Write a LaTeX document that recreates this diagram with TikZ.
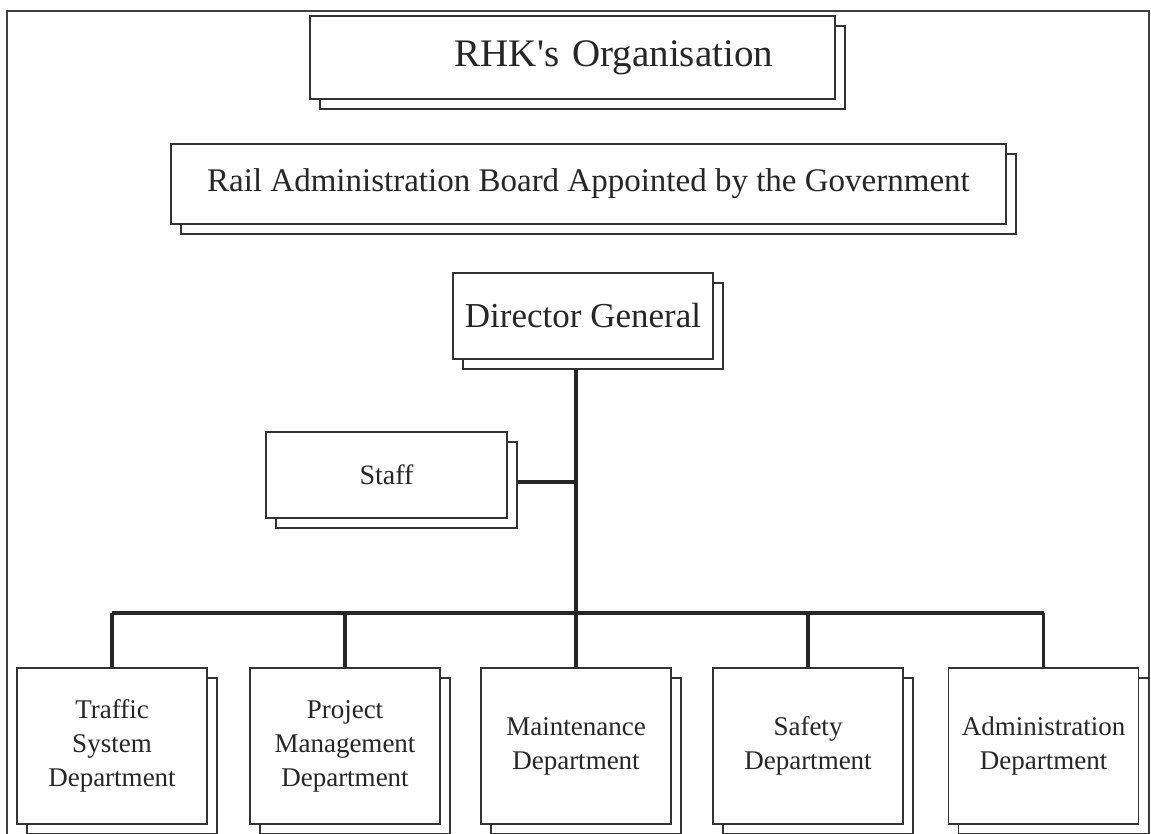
\documentclass[tikz,border=0pt]{standalone}
\usepackage{fontspec}
\setmainfont{Liberation Serif}
\usetikzlibrary{shadows, backgrounds}

\begin{document}
\begin{tikzpicture}[x=1pt, y=-1pt,
    box/.style={draw=black!80, line width=1.3pt, fill=white, text=black!85,
      copy shadow={shadow xshift=10pt, shadow yshift=-10pt}},
    dept/.style={box, minimum width=190pt, minimum height=156pt, align=center,
      font=\fontsize{27}{34}\selectfont},
    link/.style={line width=3.5pt, black!85}]
  \useasboundingbox (0,0) rectangle (1151,834);
  \draw[line width=2pt, black!75] (7,850) -- (7,11) -- (1149,11) -- (1149,850);

  \node[box, minimum width=525pt, minimum height=83pt, text width=401pt, inner xsep=62pt,
    align=right, font=\fontsize{39}{45}\selectfont] (title) at (572.5,57.5) {RHK\textquotesingle s Organisation};
  \node[box, minimum width=835pt, minimum height=80pt, font=\fontsize{33}{40}\selectfont]
    (board) at (588.5,184) {Rail Administration Board Appointed by the Government};
  \node[box, minimum width=260pt, minimum height=86pt, font=\fontsize{35}{42}\selectfont]
    (dg) at (583,316) {Director General};
  \node[box, minimum width=241pt, minimum height=86pt, font=\fontsize{28}{34}\selectfont]
    (staff) at (386.5,475) {Staff};

  \coordinate (bus) at (576,613);
  \foreach \name/\x/\txt in {traffic/112/{Traffic\\System\\Department},
      project/345/{Project\\Management\\Department},
      maint/576/{Maintenance\\Department},
      safety/808/{Safety\\Department},
      admin/1043.5/{Administration\\Department}}
    \node[dept] (\name) at (\x,746) {\txt};

  \begin{scope}[on background layer]
    \draw[link] (dg.south -| bus) -- (bus);
    \draw[link] (staff.east) ++(0,7) coordinate (sj) -- (sj -| bus);
    \draw[link] (traffic.north |- bus) -- (admin.north |- bus);
    \foreach \name in {traffic, project, maint, safety, admin}
      \draw[link] (\name.north |- bus) -- (\name.north);
  \end{scope}
\end{tikzpicture}
\end{document}
